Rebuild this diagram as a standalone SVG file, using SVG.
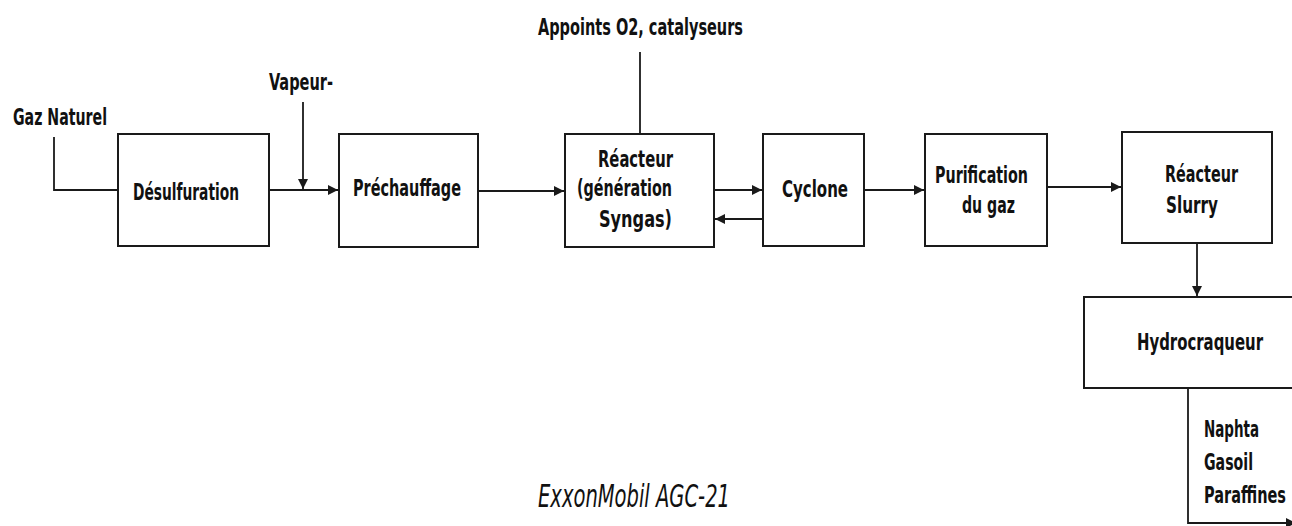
<svg xmlns="http://www.w3.org/2000/svg" width="1292" height="526" viewBox="0 0 1292 526">
  <style>
    .box { fill: #ffffff; stroke: #1a1a1a; stroke-width: 2; }
    .edge { fill: none; stroke: #1a1a1a; stroke-width: 2; }
    .lbl { font-family: "DejaVu Sans Condensed", "Liberation Sans", sans-serif; font-weight: bold; font-size: 23px; fill: #111111; }
    .lbl-tall { font-size: 16.5px; }
    .flow { fill: none; stroke: #1a1a1a; stroke-width: 1.8; }
    .title { font-family: "DejaVu Sans Condensed", "Liberation Sans", sans-serif; font-style: italic; font-size: 32px; fill: #111111; }
  </style>
  <defs>
    <marker id="arrow" markerUnits="userSpaceOnUse" markerWidth="11" markerHeight="10" refX="10" refY="5" orient="auto">
      <path d="M0,0 L10,5 L0,10 Z" fill="#1a1a1a"/>
    </marker>
  </defs>
  <rect width="1292" height="526" fill="#ffffff"/>

  <!-- feed labels -->
  <text class="lbl" x="13" y="125" textLength="94" lengthAdjust="spacingAndGlyphs">Gaz Naturel</text>
  <text class="lbl" x="269" y="90" textLength="64" lengthAdjust="spacingAndGlyphs">Vapeur-</text>
  <text class="lbl" x="538" y="35" textLength="205" lengthAdjust="spacingAndGlyphs">Appoints O2, catalyseurs</text>

  <g id="connectors">
    <polyline class="flow" points="54,137 54,190 118,190"/>
    <line class="flow" x1="269" y1="190" x2="338" y2="190" marker-end="url(#arrow)"/>
    <line class="flow" x1="303" y1="102" x2="303" y2="189" marker-end="url(#arrow)"/>
    <line class="flow" x1="478" y1="191" x2="564" y2="191" marker-end="url(#arrow)"/>
    <line class="flow" x1="640" y1="52" x2="640" y2="134"/>
    <line class="flow" x1="714" y1="190" x2="762" y2="190" marker-end="url(#arrow)"/>
    <line class="flow" x1="763" y1="219" x2="715" y2="219" marker-end="url(#arrow)"/>
    <line class="flow" x1="864" y1="190" x2="924" y2="190" marker-end="url(#arrow)"/>
    <line class="flow" x1="1047" y1="187" x2="1121" y2="187" marker-end="url(#arrow)"/>
    <line class="flow" x1="1197" y1="243" x2="1197" y2="296" marker-end="url(#arrow)"/>
    <polyline class="flow" points="1188,388 1188,523 1296,523" marker-end="url(#arrow)"/>
  </g>

  <g id="desulfuration">
    <rect class="box" x="118" y="134" width="151" height="112"/>
    <text class="lbl" x="133" y="200" textLength="106" lengthAdjust="spacingAndGlyphs">Désulfuration</text>
  </g>

  <g id="prechauffage">
    <rect class="box" x="339" y="134" width="139" height="113"/>
    <text class="lbl" x="353" y="196" textLength="108" lengthAdjust="spacingAndGlyphs">Préchauffage</text>
  </g>

  <g id="reacteur-syngas">
    <rect class="box" x="565" y="134" width="149" height="113"/>
    <text class="lbl" x="598" y="167" textLength="75" lengthAdjust="spacingAndGlyphs">Réacteur</text>
    <text class="lbl" x="577" y="196" textLength="95" lengthAdjust="spacingAndGlyphs">(génération</text>
    <text class="lbl" x="599" y="227" textLength="73" lengthAdjust="spacingAndGlyphs">Syngas)</text>
  </g>

  <g id="cyclone">
    <rect class="box" x="763" y="134" width="101" height="112"/>
    <text class="lbl" x="782" y="197" textLength="66" lengthAdjust="spacingAndGlyphs">Cyclone</text>
  </g>

  <g id="purification">
    <rect class="box" x="925" y="134" width="122" height="112"/>
    <text class="lbl" x="935" y="183" textLength="93" lengthAdjust="spacingAndGlyphs">Purification</text>
    <text class="lbl" x="962" y="213" textLength="53" lengthAdjust="spacingAndGlyphs">du gaz</text>
  </g>

  <g id="reacteur-slurry">
    <rect class="box" x="1122" y="132" width="150" height="111"/>
    <text class="lbl" x="1165" y="182" textLength="73" lengthAdjust="spacingAndGlyphs">Réacteur</text>
    <text class="lbl" x="1166" y="213" textLength="52" lengthAdjust="spacingAndGlyphs">Slurry</text>
  </g>

  <g id="hydrocraqueur">
    <!-- box runs to the right edge of the sheet: top, left and bottom sides only -->
    <path class="edge" d="M1292,297 H1084 V388 H1292"/>
    <!-- smaller type stretched vertically so the label stays within the sheet -->
    <text class="lbl lbl-tall" transform="translate(1137,350) scale(1,1.394)" textLength="126" lengthAdjust="spacingAndGlyphs">Hydrocraqueur</text>
  </g>

  <g id="produits">
    <text class="lbl" x="1204" y="437" textLength="55" lengthAdjust="spacingAndGlyphs">Naphta</text>
    <text class="lbl" x="1204" y="470" textLength="49" lengthAdjust="spacingAndGlyphs">Gasoil</text>
    <text class="lbl lbl-tall" transform="translate(1204,503) scale(1,1.394)" textLength="82" lengthAdjust="spacingAndGlyphs">Paraffines</text>
  </g>

  <text class="title" x="538" y="507" textLength="192" lengthAdjust="spacingAndGlyphs">ExxonMobil AGC-21</text>
</svg>
